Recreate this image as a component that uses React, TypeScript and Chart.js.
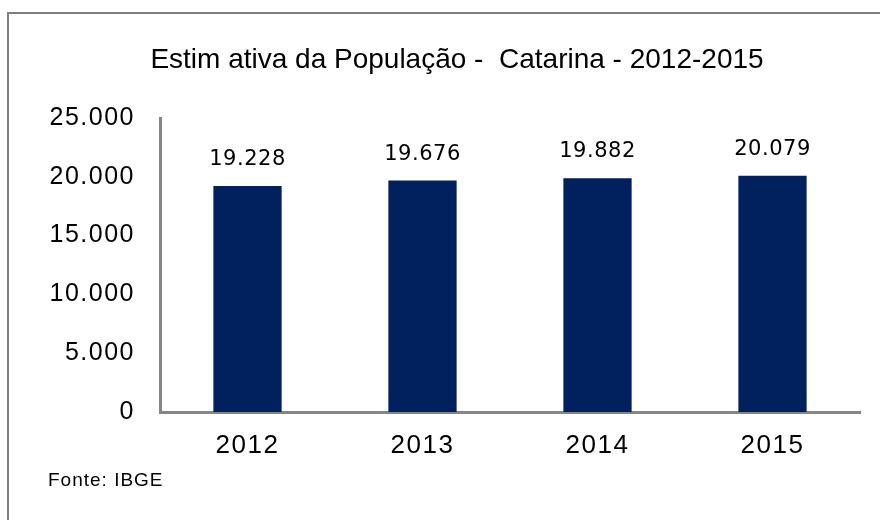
import React, { useEffect, useRef } from "react";
import { Chart, registerables } from "chart.js";

Chart.register(...registerables);

const categories = ["2012", "2013", "2014", "2015"];
const population = [19228, 19676, 19882, 20079];
const yTicks = [0, 5000, 10000, 15000, 20000, 25000];
const titleText = "Estim ativa da População -  Catarina - 2012-2015";
const sourceText = "Fonte: IBGE";

const fmt = (v: number) => String(Math.round(v)).replace(/\B(?=(\d{3})+(?!\d))/g, ".");

const spacingPlugin = {
  id: "spacing",
  beforeLayout(chart: any) {
    chart.ctx.letterSpacing = "1.5px";
  },
  beforeDraw(chart: any) {
    chart.ctx.letterSpacing = "1.5px";
  },
};

const dataLabelPlugin = {
  id: "dataLabels",
  afterDatasetsDraw(chart: any) {
    const ctx = chart.ctx;
    const meta = chart.getDatasetMeta(0);
    ctx.save();
    ctx.letterSpacing = "0.5px";
    ctx.font = "21px 'DejaVu Sans'";
    ctx.fillStyle = "#000000";
    ctx.textAlign = "center";
    ctx.textBaseline = "bottom";
    meta.data.forEach((bar: any, i: number) => {
      ctx.fillText(fmt(population[i]), bar.x, bar.y - 16);
    });
    ctx.restore();
  },
};

const titlePlugin = {
  id: "chartTitle",
  afterDraw(chart: any) {
    const ctx = chart.ctx;
    ctx.save();
    ctx.letterSpacing = "0px";
    ctx.font = "28px 'Liberation Sans', Arial, sans-serif";
    ctx.fillStyle = "#000000";
    ctx.textAlign = "center";
    ctx.textBaseline = "middle";
    ctx.fillText(titleText, 457, 60);
    ctx.restore();
  },
};

export default function App() {
  const ref = useRef<HTMLCanvasElement | null>(null);
  useEffect(() => {
    if (!ref.current) return;
    const chart = new Chart(ref.current, {
      type: "bar",
      data: {
        labels: categories,
        datasets: [
          {
            data: population,
            backgroundColor: "#00205E",
            barPercentage: 0.39,
            categoryPercentage: 1,
          },
        ],
      },
      options: {
        animation: false,
        responsive: false,
        layout: { padding: { left: 34, right: 20, bottom: 58, top: 118 } },
        plugins: {
          legend: { display: false },
          tooltip: { enabled: false },
          title: { display: false },
        },
        scales: {
          x: {
            grid: { display: false, drawTicks: false },
            border: { display: true, color: "#868686", width: 3 },
            ticks: {
              color: "#000000",
              padding: 18,
              font: { family: "'Liberation Sans', Arial, sans-serif", size: 26 },
            },
            afterFit: (s: any) => {
              s.height = 50;
            },
          },
          y: {
            min: 0,
            max: 25000,
            afterBuildTicks: (s: any) => {
              s.ticks = yTicks.map((v) => ({ value: v }));
            },
            grid: { display: false, drawTicks: false },
            border: { display: true, color: "#868686", width: 3 },
            ticks: {
              color: "#000000",
              padding: 25,
              font: { family: "'Liberation Sans', Arial, sans-serif", size: 25 },
              callback: (v: any) => fmt(Number(v)),
            },
            afterFit: (s: any) => {
              s.width = 160 - 34;
            },
          },
        },
      },
      plugins: [spacingPlugin, dataLabelPlugin, titlePlugin],
    });
    return () => chart.destroy();
  }, []);

  return (
    <div style={{ position: "fixed", left: 0, top: 0, width: 880, height: 520, background: "#ffffff", overflow: "hidden" }}>
      <div
        style={{
          position: "absolute",
          left: 7,
          top: 12,
          width: 1000,
          height: 1000,
          borderLeft: "2px solid #7f7f7f",
          borderTop: "2px solid #7f7f7f",
        }}
      />
      <canvas ref={ref} width={880} height={520} style={{ position: "absolute", left: 0, top: 0 }} />
      <div
        style={{
          position: "absolute",
          left: 48,
          top: 470,
          fontFamily: "'Liberation Sans', Arial, sans-serif",
          fontSize: 19,
          letterSpacing: "1px",
          color: "#000000",
          lineHeight: "20px",
        }}
      >
        {sourceText}
      </div>
    </div>
  );
}
